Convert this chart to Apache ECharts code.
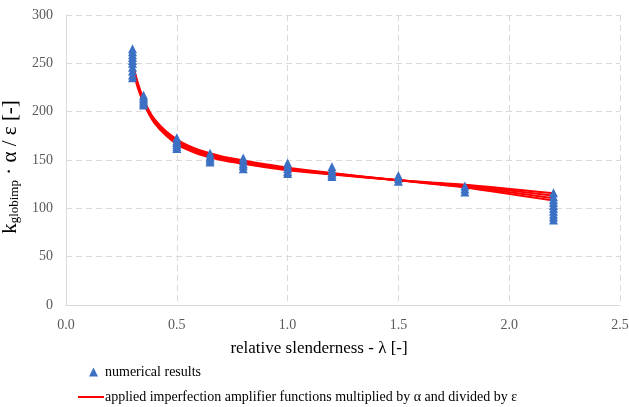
<!DOCTYPE html>
<html>
<head>
<meta charset="utf-8">
<script src="https://cdn.jsdelivr.net/npm/echarts@6/dist/echarts.min.js"></script>
<style>
    html, body { margin: 0; padding: 0; background: #fff; }
    #main { width: 629px; height: 407px; }
</style>
</head>
<body>
<div id="main"></div>
<script>
// relative slenderness of the numerical models
var lambdaPts = [0.3, 0.35, 0.5, 0.65, 0.8, 1.0, 1.2, 1.5, 1.8, 2.2];
// numerical results at each slenderness
var numResults = [
    [235, 238, 242, 246, 250, 253, 256, 259, 262, 265],
    [207, 209, 211, 213, 215, 217],
    [162, 164, 166, 168, 170, 173],
    [148, 150, 152, 154, 157],
    [141, 144, 146, 149, 152],
    [136, 138, 141, 144, 147],
    [133, 135, 137, 140, 143],
    [128, 131, 134],
    [117, 120, 123],
    [88, 91, 94, 97, 100, 103, 106, 109, 112, 116]
];

// amplifier function curves
var lambdaCurve = [0.3, 0.325, 0.35, 0.375, 0.4, 0.45, 0.5, 0.55, 0.6, 0.7, 0.8, 0.9, 1.0, 1.2, 1.5, 1.8, 2.2];
var curve1 = [251, 229, 213, 201, 192, 180, 171.5, 165, 160.5, 154, 149.5, 145.5, 142, 136.5, 129, 121.5, 108];
var curve2 = [249, 227.5, 212, 200, 191, 178.5, 169.5, 163.5, 159, 152.5, 148, 144.5, 141, 136, 129, 122.5, 110.5];
var curve3 = [247, 226, 210.5, 198.5, 189.5, 177, 168, 162, 157.5, 151.5, 147, 143.5, 140.5, 135.5, 129, 123.5, 113];
var curve4 = [245, 224, 209, 197, 188, 175.5, 166.5, 160.5, 156, 150, 146, 142.5, 139.5, 135, 129, 124.5, 115.5];

var lineName = 'applied imperfection amplifier functions multiplied by α and divided by ε';
var ptsName = 'numerical results';

var myChart = echarts.init(document.getElementById('main'));

var scatterData = [];
for (var i = 0; i < lambdaPts.length; i++) {
    for (var j = 0; j < numResults[i].length; j++) {
        scatterData.push([lambdaPts[i], numResults[i][j]]);
    }
}

function pairs(ys) {
    var out = [];
    for (var k = 0; k < lambdaCurve.length; k++) {
        out.push([lambdaCurve[k], ys[k]]);
    }
    return out;
}

var curves = [curve1, curve2, curve3, curve4];
var series = [];
for (var c = 0; c < curves.length; c++) {
    series.push({
        name: lineName,
        type: 'line',
        data: pairs(curves[c]),
        symbol: 'none',
        smooth: 0.25,
        lineStyle: { color: '#ff0000', width: 2 },
        itemStyle: { color: '#ff0000' },
        z: 2,
        animation: false
    });
}
series.push({
    name: ptsName,
    type: 'scatter',
    data: scatterData,
    symbol: 'triangle',
    symbolSize: [9, 9],
    itemStyle: { color: '#3b70c4', opacity: 1 },
    z: 5,
    animation: false
});

var font = 'Liberation Serif';

var option = {
    backgroundColor: '#fff',
    grid: { left: 66, right: 9, top: 15, bottom: 102, outerBoundsMode: 'none' },
    legend: [{
        data: [ptsName],
        orient: 'vertical',
        left: 84,
        top: 360,
        icon: 'triangle',
        itemWidth: 9,
        itemHeight: 9,
        textStyle: { fontFamily: font, fontSize: 14, color: '#000', padding: [0, 0, 0, 2] }
    }, {
        data: [lineName],
        orient: 'vertical',
        left: 73,
        top: 385,
        icon: 'rect',
        itemWidth: 26,
        itemHeight: 2,
        textStyle: { fontFamily: font, fontSize: 14, color: '#000', padding: [0, 0, 0, -4] }
    }],
    xAxis: {
        type: 'value',
        min: 0,
        max: 2.5,
        interval: 0.5,
        name: 'relative slenderness - λ [-]',
        nameLocation: 'middle',
        nameGap: 35,
        nameTextStyle: { fontFamily: font, fontSize: 17, color: '#000', padding: [0, 48, 0, 0] },
        axisLine: { show: true, onZero: false, lineStyle: { color: '#d9d9d9', width: 1 } },
        axisTick: { show: false },
        axisLabel: {
            fontFamily: font, fontSize: 14, color: '#595959', margin: 13,
            formatter: function (v) { return v.toFixed(1); }
        },
        splitLine: { show: true, lineStyle: { color: '#d9d9d9', type: [6, 4], width: 1 } }
    },
    yAxis: {
        type: 'value',
        min: 0,
        max: 300,
        interval: 50,
        name: '{a|k}{b|globimp}{a| · α / ε [-]}',
        nameLocation: 'middle',
        nameGap: 43,
        nameRotate: 90,
        nameTextStyle: {
            padding: [0, 0, 0, -14],
            rich: {
                a: { fontFamily: font, fontSize: 21, color: '#000', lineHeight: 24, verticalAlign: 'bottom' },
                b: { fontFamily: font, fontSize: 13, color: '#000', lineHeight: 24, verticalAlign: 'bottom', padding: [9, 0, 0, 0] }
            }
        },
        axisLine: { show: true, lineStyle: { color: '#d9d9d9', width: 1 } },
        axisTick: { show: false },
        axisLabel: { fontFamily: font, fontSize: 14, color: '#595959', margin: 13 },
        splitLine: { show: true, lineStyle: { color: '#d9d9d9', type: [6, 4], width: 1 } }
    },
    series: series
};

myChart.setOption(option);
</script>
</body>
</html>
